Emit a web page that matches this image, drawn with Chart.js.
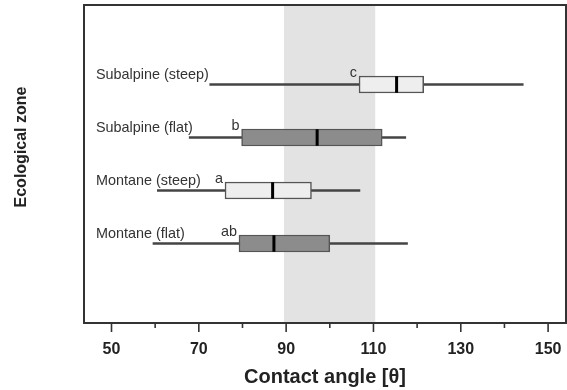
<!DOCTYPE html>
<html>
<head>
<meta charset="utf-8">
<script src="https://cdn.jsdelivr.net/npm/chart.js@4/dist/chart.umd.min.js"></script>
<style>
  html, body { margin: 0; padding: 0; background: #fff; }
  #wrap { width: 567px; height: 390px; position: relative; }
</style>
</head>
<body>
<div id="wrap"><canvas id="chart"></canvas></div>
<script>
// zones, top to bottom
var zones = ['Subalpine (steep)', 'Subalpine (flat)', 'Montane (steep)', 'Montane (flat)'];
var letters = ['c', 'b', 'a', 'ab'];
var whiskerMin = [72.5, 67.8, 60.5, 59.5];
var q1 = [106.7, 79.8, 76.0, 79.2];
var median = [115.3, 97.1, 86.9, 87.2];
var q3 = [121.5, 112.0, 95.8, 100.0];
var whiskerMax = [144.3, 117.4, 106.9, 117.8];
var boxColors = ['#eeeeee', '#8c8c8c', '#eeeeee', '#8c8c8c'];
var bandRange = [89.5, 110.4];
var xTickValues = [50, 60, 70, 80, 90, 100, 110, 120, 130, 140, 150];
var xMajor = [50, 70, 90, 110, 130, 150];

var FONT = "'Liberation Sans', Arial, sans-serif";

// one empty slot above and below the four zones
var slots = [''].concat(zones, [' ']);
function pad(arr) { return [null].concat(arr, [null]); }

var boxes = pad(zones.map(function(z, i) { return [q1[i], q3[i]]; }));
var whiskers = pad(zones.map(function(z, i) { return [whiskerMin[i], whiskerMax[i]]; }));

var decor = {
    id: 'decor',
    beforeDatasetsDraw: function(chart) {
        var c = chart.ctx, a = chart.chartArea, x = chart.scales.x;
        c.save();
        c.fillStyle = '#e3e3e3';
        var x0 = x.getPixelForValue(bandRange[0]), x1 = x.getPixelForValue(bandRange[1]);
        c.fillRect(x0, a.top, x1 - x0, a.bottom - a.top);
        c.restore();
    },
    afterDatasetsDraw: function(chart) {
        var c = chart.ctx, a = chart.chartArea, x = chart.scales.x, y = chart.scales.y;
        c.save();
        c.fillStyle = '#333';
        c.textBaseline = 'alphabetic';
        c.font = '14.4px ' + FONT;
        zones.forEach(function(z, i) {
            var py = y.getPixelForValue(i + 1);
            c.textAlign = 'left';
            c.fillText(z, a.left + 12, py - 6);
            c.textAlign = 'right';
            c.fillText(letters[i], x.getPixelForValue(q1[i]) - 2, py - 8);
        });
        // frame
        c.strokeStyle = '#333';
        c.lineWidth = 2;
        c.strokeRect(a.left, a.top, a.right - a.left, a.bottom - a.top);
        // ticks
        c.lineWidth = 1.6;
        xTickValues.forEach(function(v) {
            var px = x.getPixelForValue(v);
            var len = xMajor.indexOf(v) >= 0 ? 9 : 5;
            c.beginPath();
            c.moveTo(px, a.bottom);
            c.lineTo(px, a.bottom + len);
            c.stroke();
        });
        // y title
        c.translate(22, 147);
        c.rotate(-Math.PI / 2);
        c.textAlign = 'center';
        c.textBaseline = 'middle';
        c.fillStyle = '#222';
        c.font = 'bold 16px ' + FONT;
        c.fillText('Ecological zone', 0, 0);
        c.restore();
    }
};

var ctx = document.getElementById('chart').getContext('2d');
var chart = new Chart(ctx, {
    type: 'bar',
    data: {
        labels: slots,
        datasets: [{
            type: 'line',
            indexAxis: 'y',
            data: pad(median),
            showLine: false,
            pointStyle: 'line',
            rotation: 90,
            pointRadius: 8.3,
            pointHoverRadius: 8.3,
            pointBorderWidth: 3,
            pointHoverBorderWidth: 3,
            borderColor: '#000',
            order: 0
        }, {
            data: boxes,
            backgroundColor: pad(boxColors),
            borderColor: '#555',
            borderWidth: 1.5,
            borderSkipped: false,
            barThickness: 17,
            grouped: false,
            order: 1
        }, {
            data: whiskers,
            backgroundColor: '#444',
            borderWidth: 0,
            barThickness: 2,
            grouped: false,
            order: 2
        }]
    },
    options: {
        indexAxis: 'y',
        responsive: true,
        maintainAspectRatio: false,
        animation: false,
        events: [],
        layout: { autoPadding: false, padding: { top: 5, right: 1, left: 0, bottom: 0 } },
        plugins: { legend: { display: false }, tooltip: { enabled: false } },
        scales: {
            x: {
                type: 'linear',
                min: 43.7,
                max: 154.1,
                afterBuildTicks: function(s) {
                    s.ticks = xTickValues.map(function(v) { return { value: v }; });
                },
                afterFit: function(s) {
                    s.height = 67;
                    s.paddingLeft = 0; s.paddingRight = 0;
                },
                grid: { display: false },
                border: { display: false },
                ticks: {
                    autoSkip: false,
                    maxRotation: 0,
                    padding: 9,
                    color: '#222',
                    font: { family: FONT, size: 16, weight: 'bold' },
                    callback: function(v) { return xMajor.indexOf(v) >= 0 ? String(v) : ''; }
                },
                title: {
                    display: true,
                    text: 'Contact angle [θ]',
                    color: '#222',
                    font: { family: FONT, size: 20, weight: 'bold' },
                    padding: { top: 0, bottom: 1 }
                }
            },
            y: {
                type: 'category',
                offset: true,
                afterFit: function(s) {
                    s.width = 84;
                    s.paddingTop = 0; s.paddingBottom = 0;
                },
                grid: { display: false },
                border: { display: false },
                ticks: { display: false }
            }
        }
    },
    plugins: [decor]
});
</script>
</body>
</html>
